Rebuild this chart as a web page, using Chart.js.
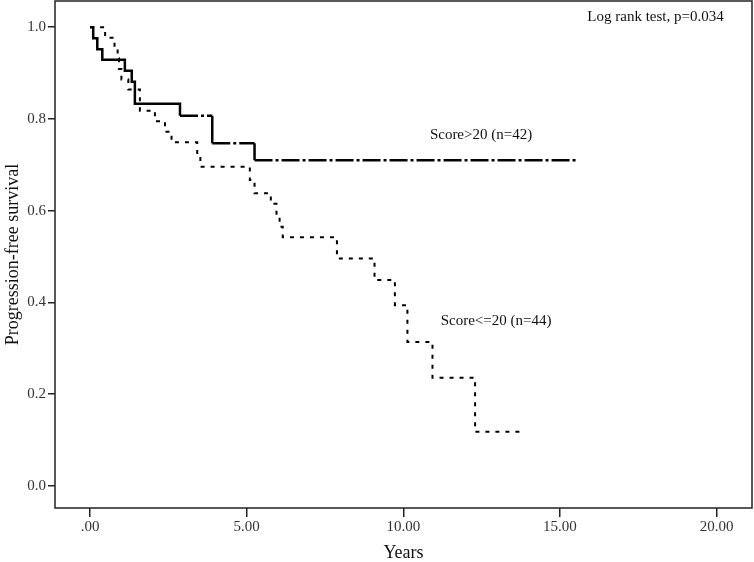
<!DOCTYPE html>
<html>
<head>
<meta charset="utf-8">
<script src="https://cdn.jsdelivr.net/npm/chart.js@4.4.0/dist/chart.umd.min.js"></script>
<style>
  html, body { margin: 0; padding: 0; background: #fff; }
  #wrap { width: 754px; height: 562px; }
</style>
</head>
<body>
<div id="wrap"><canvas id="km"></canvas></div>
<script>
// Kaplan-Meier step data (years, survival)
var highTimes = [0, 0.10, 0.23, 0.39, 1.11, 1.33, 1.43, 2.87, 3.90, 5.25, 15.54];
var highSurv  = [1.0, 0.976, 0.952, 0.929, 0.905, 0.881, 0.833, 0.807, 0.747, 0.710, 0.710];

var lowTimes = [0, 0.48, 0.78, 0.88, 0.92, 1.00, 1.22, 1.59, 2.07, 2.39, 2.60, 3.42, 3.52, 5.10, 5.25, 5.77, 5.95, 6.05, 6.15, 7.88, 9.08, 9.73, 10.13, 10.93, 12.29, 13.80];
var lowSurv  = [1.0, 0.977, 0.955, 0.932, 0.909, 0.886, 0.864, 0.818, 0.795, 0.772, 0.749, 0.721, 0.696, 0.667, 0.638, 0.615, 0.590, 0.565, 0.542, 0.496, 0.449, 0.394, 0.314, 0.236, 0.118, 0.118];

var xTicks = [0, 5, 10, 15, 20];
var yTicks = [0, 0.2, 0.4, 0.6, 0.8, 1.0];

var highLabel = 'Score>20 (n=42)';
var lowLabel = 'Score<=20 (n=44)';
var testLabel = 'Log rank test, p=0.034';

// turn the KM points into explicit horizontal/vertical steps
function steps(times, surv) {
  var pts = [];
  for (var i = 0; i < times.length; i++) {
    if (i > 0 && surv[i] !== surv[i - 1]) pts.push({ x: times[i], y: surv[i - 1] });
    pts.push({ x: times[i], y: surv[i] });
  }
  return pts;
}

var serif = "'Liberation Serif', 'Times New Roman', serif";
var dashFrom = 2.8;

// frame round the plot area
var framePlugin = {
  id: 'frame',
  afterDraw: function (chart) {
    var a = chart.chartArea, ctx = chart.ctx;
    ctx.save();
    ctx.strokeStyle = '#222';
    ctx.lineWidth = 1.5;
    ctx.strokeRect(a.left, a.top, a.right - a.left, a.bottom - a.top);
    ctx.restore();
  }
};

// text notes placed in data units
var notesPlugin = {
  id: 'notes',
  afterDatasetsDraw: function (chart) {
    var x = chart.scales.x, y = chart.scales.y, ctx = chart.ctx;
    ctx.save();
    ctx.fillStyle = '#111';
    ctx.font = '15px ' + serif;
    ctx.textAlign = 'center';
    ctx.textBaseline = 'middle';
    ctx.fillText(testLabel, x.getPixelForValue(18.05), y.getPixelForValue(1.022));
    ctx.fillText(highLabel, x.getPixelForValue(12.48), y.getPixelForValue(0.765));
    ctx.fillText(lowLabel, x.getPixelForValue(12.96), y.getPixelForValue(0.359));
    ctx.restore();
  }
};

new Chart(document.getElementById('km'), {
  type: 'scatter',
  data: {
    datasets: [
      {
        label: highLabel,
        data: steps(highTimes, highSurv),
        showLine: true,
        borderColor: '#000',
        borderWidth: 2.5,
        pointRadius: 0,
        segment: {
          borderDash: function (ctx) {
            if (ctx.p0.parsed.y === ctx.p1.parsed.y && ctx.p0.parsed.x >= dashFrom) return [18, 3, 3, 3];
            return undefined;
          }
        }
      },
      {
        label: lowLabel,
        data: steps(lowTimes, lowSurv),
        showLine: true,
        borderColor: '#000',
        borderWidth: 2,
        borderDash: [4, 6],
        pointRadius: 0
      }
    ]
  },
  options: {
    responsive: true,
    maintainAspectRatio: false,
    animation: false,
    layout: { padding: { top: 1, right: 2, left: 0, bottom: 0 } },
    plugins: {
      legend: { display: false },
      tooltip: { enabled: false }
    },
    scales: {
      x: {
        type: 'linear',
        min: -1.12,
        max: 21.13,
        afterBuildTicks: function (axis) { axis.ticks = xTicks.map(function (v) { return { value: v }; }); },
        afterFit: function (axis) { axis.height = 54; axis.paddingLeft = 0; axis.paddingRight = 0; },
        border: { display: false },
        grid: { drawOnChartArea: false, tickLength: 9, color: '#222', lineWidth: 1.5 },
        ticks: {
          color: '#333',
          font: { family: serif, size: 15 },
          padding: 1,
          maxRotation: 0,
          callback: function (v) { return v === 0 ? '.00' : v.toFixed(2); }
        },
        title: {
          display: true,
          text: 'Years',
          color: '#111',
          font: { family: serif, size: 18 },
          padding: { top: 0, bottom: -2 }
        }
      },
      y: {
        min: -0.048,
        max: 1.057,
        afterBuildTicks: function (axis) { axis.ticks = yTicks.map(function (v) { return { value: v }; }); },
        afterFit: function (axis) { axis.width = 55; axis.paddingTop = 0; axis.paddingBottom = 0; },
        border: { display: false },
        grid: { drawOnChartArea: false, tickLength: 7, color: '#222', lineWidth: 1.5 },
        ticks: {
          color: '#333',
          font: { family: serif, size: 15 },
          padding: 2,
          callback: function (v) { return v.toFixed(1); }
        },
        title: {
          display: true,
          text: 'Progression-free survival',
          color: '#111',
          font: { family: serif, size: 18 },
          padding: { top: 2, bottom: 0 }
        }
      }
    }
  },
  plugins: [framePlugin, notesPlugin]
});
</script>
</body>
</html>
